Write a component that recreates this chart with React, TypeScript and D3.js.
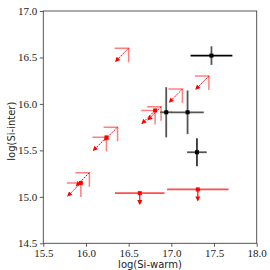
import React, { useEffect, useRef } from 'react';
import * as d3 from 'd3';

// black detections: value +/- symmetric error
const detX = [17.47, 16.94, 17.19, 17.3];
const detY = [16.52, 15.91, 15.91, 15.48];
const detXErr = [0.245, 0.07, 0.19, 0.115];
const detYErr = [0.1, 0.27, 0.235, 0.15];

// red limits in both quantities (corner of the bracket)
const limX = [16.5, 17.44, 17.13, 16.88, 16.81, 16.37, 16.24, 16.04, 15.94];
const limY = [16.6, 16.3, 16.16, 15.97, 15.93, 15.75, 15.64, 15.26, 15.15];
const limHasPoint = [false, false, false, false, true, false, true, false, true];

// red upper limits in y with x range
const ulX = [16.63, 17.31];
const ulY = [15.04, 15.08];
const ulXErr = [0.29, 0.36];

const xTicks = [15.5, 16.0, 16.5, 17.0, 17.5, 18.0];
const yTicks = [14.5, 15.0, 15.5, 16.0, 16.5, 17.0];

const App = () => {
  const chartRef = useRef(null);

  useEffect(() => {
    const width = 270;
    const height = 270;
    const margin = { top: 11, right: 13.3, bottom: 26.7, left: 43.3 };
    const innerWidth = width - margin.left - margin.right;
    const innerHeight = height - margin.top - margin.bottom;

    d3.select(chartRef.current).selectAll('*').remove();

    const x = d3.scaleLinear().domain([15.5, 18.0]).range([0, innerWidth]);
    const y = d3.scaleLinear().domain([14.5, 17.0]).range([innerHeight, 0]);

    const root = d3
      .select(chartRef.current)
      .append('svg')
      .attr('width', width)
      .attr('height', height)
      .style('position', 'absolute')
      .style('left', 0)
      .style('top', 0)
      .style('background', '#fff');

    const defs = root.append('defs');
    defs
      .append('marker')
      .attr('id', 'head')
      .attr('viewBox', '0 0 10 10')
      .attr('refX', 8)
      .attr('refY', 5)
      .attr('markerWidth', 5)
      .attr('markerHeight', 5)
      .attr('markerUnits', 'userSpaceOnUse')
      .attr('orient', 'auto')
      .append('path')
      .attr('d', 'M0,0L10,5L0,10Z')
      .attr('fill', '#ff0000');

    const svg = root
      .append('g')
      .attr('transform', `translate(${margin.left},${margin.top})`);

    const serif = '"Liberation Serif", "DejaVu Serif", serif';
    const sans = '"DejaVu Sans", sans-serif';

    // axes
    const xAxis = svg
      .append('g')
      .attr('transform', `translate(0,${innerHeight})`)
      .call(d3.axisBottom(x).tickValues(xTicks).tickFormat(d3.format('.1f')).tickSize(3.5).tickPadding(2));
    const yAxis = svg
      .append('g')
      .call(d3.axisLeft(y).tickValues(yTicks).tickFormat(d3.format('.1f')).tickSize(3.5).tickPadding(2.5));
    [xAxis, yAxis].forEach((g) => {
      g.select('.domain').remove();
      g.selectAll('line').attr('stroke', '#333').attr('stroke-width', 0.8);
      g.selectAll('text').attr('font-family', serif).attr('font-size', 11).attr('fill', '#222');
    });

    svg
      .append('rect')
      .attr('width', innerWidth)
      .attr('height', innerHeight)
      .attr('fill', 'none')
      .attr('stroke', '#444')
      .attr('stroke-width', 0.9);

    root
      .append('text')
      .attr('x', margin.left + innerWidth / 2)
      .attr('y', 268)
      .attr('text-anchor', 'middle')
      .attr('font-family', sans)
      .attr('font-size', 10)
      .attr('fill', '#222')
      .text('log(Si-warm)');

    root
      .append('text')
      .attr('transform', `translate(15,${margin.top + innerHeight / 2 + 4}) rotate(-90)`)
      .attr('text-anchor', 'middle')
      .attr('font-family', sans)
      .attr('font-size', 10)
      .attr('fill', '#222')
      .text('log(Si-inter)');

    // red limit brackets + diagonal arrows
    const br = 14;
    const ar = 13;
    limX.forEach((lx, i) => {
      const cx = x(lx);
      const cy = y(limY[i]);
      svg
        .append('path')
        .attr('d', `M${cx - br},${cy}L${cx},${cy}L${cx},${cy + br}`)
        .attr('fill', 'none')
        .attr('stroke', '#ff0000')
        .attr('stroke-opacity', 0.5)
        .attr('stroke-width', 1.5);
      svg
        .append('line')
        .attr('x1', cx)
        .attr('y1', cy)
        .attr('x2', cx - ar)
        .attr('y2', cy + ar)
        .attr('stroke', '#ff0000')
        .attr('stroke-width', 1)
        .attr('stroke-dasharray', '2,1')
        .attr('marker-end', 'url(#head)');
      if (limHasPoint[i]) {
        svg
          .append('rect')
          .attr('x', cx - 2)
          .attr('y', cy - 2)
          .attr('width', 4)
          .attr('height', 4)
          .attr('fill', '#ff0000');
      }
    });

    // red upper limits with x range
    ulX.forEach((ux, i) => {
      const cx = x(ux);
      const cy = y(ulY[i]);
      svg
        .append('line')
        .attr('x1', x(ux - ulXErr[i]))
        .attr('x2', x(ux + ulXErr[i]))
        .attr('y1', cy)
        .attr('y2', cy)
        .attr('stroke', '#ff0000')
        .attr('stroke-opacity', 0.7)
        .attr('stroke-width', 1.8);
      svg
        .append('line')
        .attr('x1', cx)
        .attr('x2', cx)
        .attr('y1', cy)
        .attr('y2', cy + 11)
        .attr('stroke', '#ff0000')
        .attr('stroke-opacity', 0.8)
        .attr('stroke-width', 1.5)
        .attr('marker-end', 'url(#head)');
      svg
        .append('rect')
        .attr('x', cx - 2)
        .attr('y', cy - 2)
        .attr('width', 4)
        .attr('height', 4)
        .attr('fill', '#ff0000');
    });

    // black detections
    detX.forEach((dx, i) => {
      const cx = x(dx);
      const cy = y(detY[i]);
      svg
        .append('line')
        .attr('x1', x(dx - detXErr[i]))
        .attr('x2', x(dx + detXErr[i]))
        .attr('y1', cy)
        .attr('y2', cy)
        .attr('stroke', i === 0 ? '#000' : '#555')
        .attr('stroke-width', 1.8);
      svg
        .append('line')
        .attr('x1', cx)
        .attr('x2', cx)
        .attr('y1', y(detY[i] - detYErr[i]))
        .attr('y2', y(detY[i] + detYErr[i]))
        .attr('stroke', i === 3 ? '#333' : '#555')
        .attr('stroke-width', 1.8);
      svg
        .append('rect')
        .attr('x', cx - 2)
        .attr('y', cy - 2)
        .attr('width', 4)
        .attr('height', 4)
        .attr('fill', '#000');
    });
  }, []);

  return <div ref={chartRef}></div>;
};

export default App;
